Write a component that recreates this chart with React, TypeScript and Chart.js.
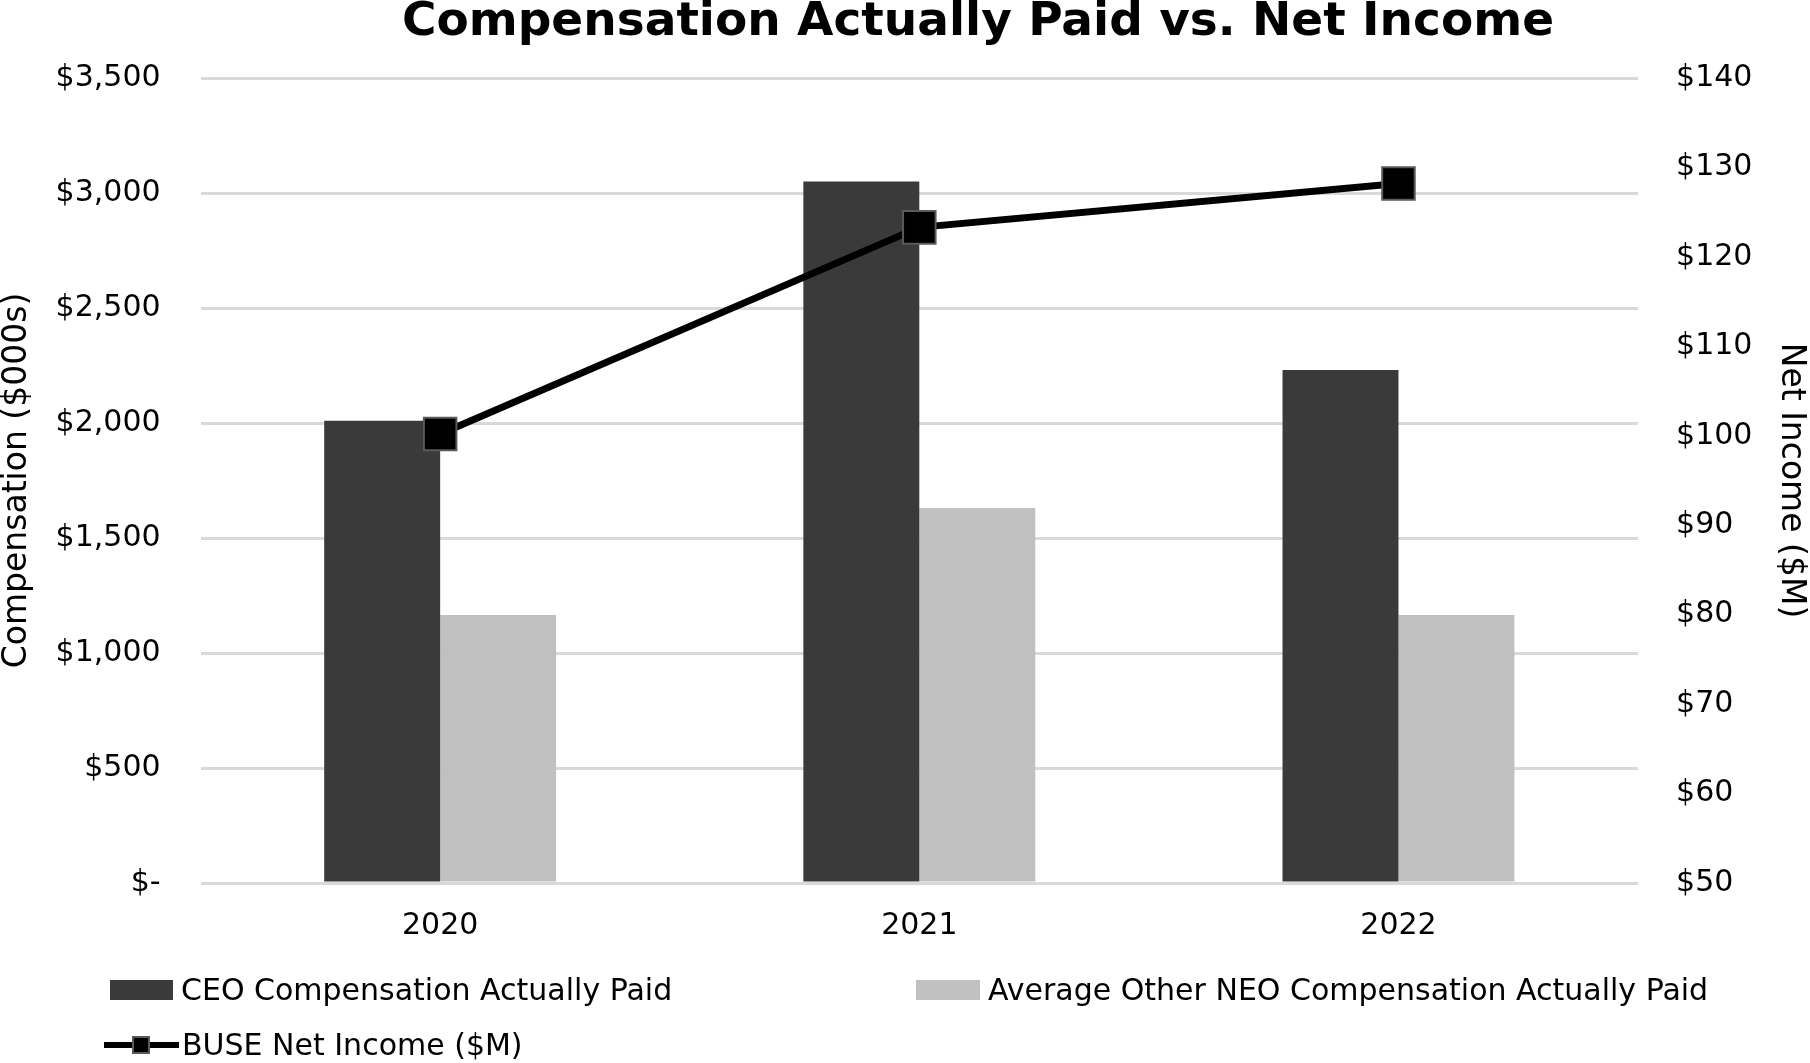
import React, { useEffect, useRef } from 'react';
import { Chart, registerables } from 'chart.js';

Chart.register(...registerables);

const categories = ['2020', '2021', '2022'];
const ceoComp = [2010, 3050, 2230];
const neoComp = [1165, 1630, 1165];
const netIncome = [100.2, 123.3, 128.2];
const leftTickLabels = ['$-', '$500', '$1,000', '$1,500', '$2,000', '$2,500', '$3,000', '$3,500'];
const rightTickLabels = ['$50', '$60', '$70', '$80', '$90', '$100', '$110', '$120', '$130', '$140'];
const seriesNames = [
  'CEO Compensation Actually Paid',
  'Average Other NEO Compensation Actually Paid',
  'BUSE Net Income ($M)',
];
const titleText = 'Compensation Actually Paid vs. Net Income';
const leftAxisTitle = 'Compensation ($000s)';
const rightAxisTitle = 'Net Income ($M)';

const FONT = 'DejaVu Sans';
const CEO_COLOR = '#3a3a3a';
const NEO_COLOR = '#c0c0c0';

export default function App() {
  const canvasRef = useRef<HTMLCanvasElement | null>(null);

  useEffect(() => {
    document.body.style.margin = '0';
    const canvas = canvasRef.current;
    if (!canvas) return;
    const chart = new Chart(canvas, {
      type: 'bar',
      data: {
        labels: categories,
        datasets: [
          {
            type: 'line',
            label: seriesNames[2],
            data: netIncome,
            yAxisID: 'y1',
            borderColor: '#000',
            borderWidth: 7,
            pointStyle: 'rect',
            pointRadius: 23,
            pointBackgroundColor: '#000',
            pointBorderColor: '#5a5a5a',
            pointBorderWidth: 2,
            tension: 0,
            order: 0,
          } as any,
          {
            type: 'bar',
            label: seriesNames[0],
            data: ceoComp,
            yAxisID: 'y',
            backgroundColor: CEO_COLOR,
            borderWidth: 0,
            categoryPercentage: 0.484,
            barPercentage: 1,
            order: 1,
          },
          {
            type: 'bar',
            label: seriesNames[1],
            data: neoComp,
            yAxisID: 'y',
            backgroundColor: NEO_COLOR,
            borderWidth: 0,
            categoryPercentage: 0.484,
            barPercentage: 1,
            order: 2,
          },
        ],
      },
      options: {
        animation: false,
        responsive: false,
        devicePixelRatio: 1,
        layout: { padding: { left: 0, right: 0, top: 78, bottom: 102 } },
        plugins: {
          legend: { display: false },
          tooltip: { enabled: false },
          title: { display: false },
        },
        scales: {
          x: {
            grid: { display: false },
            border: { display: false },
            ticks: { color: '#000', font: { family: FONT, size: 30 }, padding: 17 },
          },
          y: {
            position: 'left',
            min: 0,
            max: 3500,
            grid: { color: '#d9d9d9', lineWidth: 3, drawTicks: false },
            border: { display: false },
            ticks: {
              stepSize: 500,
              color: '#000',
              font: { family: FONT, size: 30 },
              padding: 40,
              callback: (_v: any, i: number) => leftTickLabels[i],
            },
            title: {
              display: true,
              text: leftAxisTitle,
              color: '#000',
              font: { family: FONT, size: 33 },
              padding: { top: -2, bottom: -22 },
            },
          },
          y1: {
            position: 'right',
            min: 50,
            max: 140,
            grid: { drawOnChartArea: false, drawTicks: false },
            border: { display: false },
            ticks: {
              stepSize: 10,
              color: '#000',
              font: { family: FONT, size: 30 },
              padding: 38,
              callback: (_v: any, i: number) => rightTickLabels[i],
            },
            title: {
              display: true,
              text: rightAxisTitle,
              color: '#000',
              font: { family: FONT, size: 33 },
              padding: { top: 0, bottom: -20 },
            },
          },
        },
      },
    });
    return () => chart.destroy();
  }, []);

  const legendText: React.CSSProperties = {
    position: 'absolute',
    fontFamily: FONT,
    fontSize: 30,
    color: '#000',
    lineHeight: '36px',
    whiteSpace: 'nowrap',
  };

  return (
    <div style={{ position: 'relative', width: 1810, height: 1063, overflow: 'hidden', background: '#fff' }}>
      <canvas ref={canvasRef} width={1810} height={1063} style={{ display: 'block', width: 1810, height: 1063 }} />
      <div
        style={{
          position: 'absolute',
          left: 0,
          top: -5,
          width: 1956,
          textAlign: 'center',
          fontFamily: FONT,
          fontWeight: 'bold',
          fontSize: 47,
          lineHeight: '47px',
          color: '#000',
          whiteSpace: 'nowrap',
        }}
      >
        {titleText}
      </div>
      <div style={{ position: 'absolute', left: 110, top: 980, width: 63, height: 20, background: CEO_COLOR }} />
      <div style={{ ...legendText, left: 181, top: 972 }}>{seriesNames[0]}</div>
      <div style={{ position: 'absolute', left: 916, top: 980, width: 64, height: 20, background: NEO_COLOR }} />
      <div style={{ ...legendText, left: 988, top: 972 }}>{seriesNames[1]}</div>
      <div style={{ position: 'absolute', left: 104, top: 1042, width: 75, height: 6, background: '#000' }} />
      <div style={{ position: 'absolute', left: 132, top: 1036, width: 14, height: 14, background: '#000', border: '2px solid #5a5a5a' }} />
      <div style={{ ...legendText, left: 182, top: 1027 }}>{seriesNames[2]}</div>
    </div>
  );
}
